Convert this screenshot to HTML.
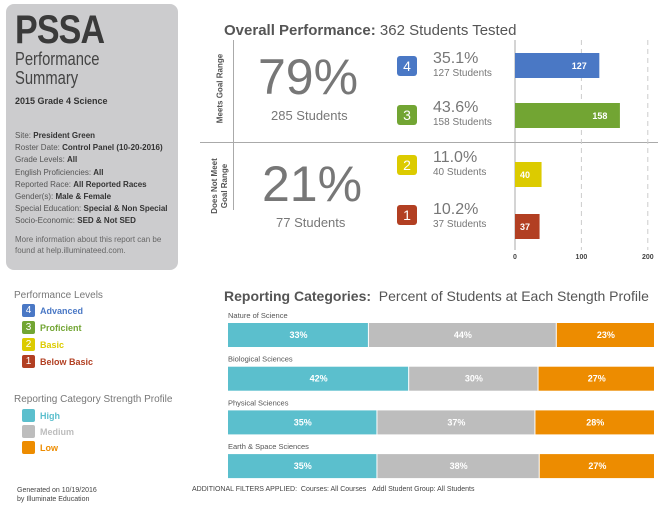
<!DOCTYPE html>
<html><head><meta charset="utf-8"><style>
body{margin:0;width:658px;height:506px;background:#fff;font-family:"Liberation Sans",sans-serif;position:relative;overflow:hidden}
.a{position:absolute}
.sq{position:absolute;width:20px;height:20px;border-radius:3px;color:#fff;font-size:14px;text-align:center;line-height:20px}
.lsq{position:absolute;width:13px;height:13px;border-radius:2px;color:#fff;font-size:10px;text-align:center;line-height:13px}
.lt{position:absolute;font-size:9px;font-weight:bold}
.side b{color:#333}
</style></head><body>
<div class="a" style="left:6px;top:4px;width:172px;height:266px;background:#ccccce;border-radius:8px"></div>
<div class="a" style="left:15px;top:8px;font-size:40px;font-weight:bold;color:#3a3a3a;font-family:'Liberation Sans Narrow','Liberation Sans',sans-serif;transform:scaleX(0.85);transform-origin:left;letter-spacing:-1px">PSSA</div>
<div class="a" style="left:15px;top:50px;font-size:18px;color:#444;line-height:19px;transform:scaleX(0.82);transform-origin:left">Performance<br>Summary</div>
<div class="a" style="left:15px;top:96px;font-size:9px;font-weight:bold;color:#333">2015 Grade 4 Science</div>
<div class="a side" style="left:15px;top:130px;font-size:8px;color:#555;line-height:12.2px;white-space:nowrap">Site: <b>President Green</b><br>Roster Date: <b>Control Panel (10-20-2016)</b><br>Grade Levels: <b>All</b><br>English Proficiencies: <b>All</b><br>Reported Race: <b>All Reported Races</b><br>Gender(s): <b>Male &amp; Female</b><br>Special Education: <b>Special &amp; Non Special</b><br>Socio-Economic: <b>SED &amp; Not SED</b></div>
<div class="a" style="left:15px;top:234px;font-size:8px;color:#666;line-height:11px">More information about this report can be<br>found at help.illuminateed.com.</div>

<div class="a" style="left:224px;top:22px;font-size:15px;color:#555"><b>Overall Performance:</b> 362 Students Tested</div>
<div class="a" style="left:233px;top:40px;width:1px;height:170px;background:#aaa"></div>
<div class="a" style="left:200px;top:142px;width:458px;height:1px;background:#aaa"></div>
<div class="a" style="left:175px;top:84px;width:90px;font-size:8px;font-weight:bold;color:#555;transform:rotate(-90deg);text-align:center">Meets Goal Range</div>
<div class="a" style="left:175px;top:176px;width:90px;font-size:8px;font-weight:bold;color:#555;transform:rotate(-90deg);text-align:center;line-height:10px">Does Not Meet<br>Goal Range</div>
<div class="a" style="left:258px;top:48px;font-size:50px;color:#777">79%</div>
<div class="a" style="left:271px;top:108px;font-size:13px;color:#777">285 Students</div>
<div class="a" style="left:262px;top:155px;font-size:50px;color:#777">21%</div>
<div class="a" style="left:276px;top:215px;font-size:13px;color:#777">77 Students</div>

<div class="sq" style="left:397px;top:56px;background:#4a78c5">4</div>
<div class="a" style="left:433px;top:50px;font-size:16px;color:#777">35.1%<div style="font-size:10px">127 Students</div></div>
<div class="sq" style="left:397px;top:105px;background:#72a533">3</div>
<div class="a" style="left:433px;top:99px;font-size:16px;color:#777">43.6%<div style="font-size:10px">158 Students</div></div>
<div class="sq" style="left:397px;top:155px;background:#dccb00">2</div>
<div class="a" style="left:433px;top:149px;font-size:16px;color:#777">11.0%<div style="font-size:10px">40 Students</div></div>
<div class="sq" style="left:397px;top:205px;background:#b23f22">1</div>
<div class="a" style="left:433px;top:201px;font-size:16px;color:#777">10.2%<div style="font-size:10px">37 Students</div></div>

<svg class="a" id="topchart" style="left:500px;top:40px" width="158" height="225"></svg>

<div class="a" style="left:14px;top:290px;font-size:10px;color:#777">Performance Levels</div>
<div class="lsq" style="left:22px;top:304px;background:#4a78c5">4</div><div class="lt" style="left:40px;top:306px;color:#4a78c5">Advanced</div>
<div class="lsq" style="left:22px;top:321px;background:#72a533">3</div><div class="lt" style="left:40px;top:323px;color:#72a533">Proficient</div>
<div class="lsq" style="left:22px;top:338px;background:#dccb00">2</div><div class="lt" style="left:40px;top:340px;color:#dccb00">Basic</div>
<div class="lsq" style="left:22px;top:355px;background:#b23f22">1</div><div class="lt" style="left:40px;top:357px;color:#b23f22">Below Basic</div>
<div class="a" style="left:14px;top:394px;font-size:10px;color:#777">Reporting Category Strength Profile</div>
<div class="lsq" style="left:22px;top:409px;background:#5bbfcd"></div><div class="lt" style="left:40px;top:411px;color:#5bbfcd">High</div>
<div class="lsq" style="left:22px;top:425px;background:#bdbdbd"></div><div class="lt" style="left:40px;top:427px;color:#bdbdbd">Medium</div>
<div class="lsq" style="left:22px;top:441px;background:#ed8c00"></div><div class="lt" style="left:40px;top:443px;color:#ed8c00">Low</div>
<div class="a" style="left:17px;top:486px;font-size:7px;color:#444;line-height:9px">Generated on 10/19/2016<br>by Illuminate Education</div>
<div class="a" style="left:192px;top:486px;font-size:7px;color:#444">ADDITIONAL FILTERS APPLIED: &nbsp;Courses: All Courses &nbsp;&nbsp;Addl Student Group: All Students</div>

<div class="a" style="left:224px;top:288px;font-size:14px;color:#555;white-space:nowrap"><b>Reporting Categories:</b>&nbsp; Percent of Students at Each Stength Profile</div>
<svg class="a" id="botchart" style="left:220px;top:305px" width="438" height="180"></svg>

<script>
const levels=["4","3","2","1"];
const levelCounts=[127,158,40,37];
const levelColors=["#4a78c5","#72a533","#dccb00","#b23f22"];
const xTicks=[0,100,200];
const cats=["Nature of Science","Biological Sciences","Physical Sciences","Earth & Space Sciences"];
const high=[33,42,35,35];
const medium=[44,30,37,38];
const low=[23,27,28,27];
const NS="http://www.w3.org/2000/svg";
function mk(p,t,a){const e=document.createElementNS(NS,t);for(const k in a)e.setAttribute(k,a[k]);p.appendChild(e);return e;}
const topSvg=document.getElementById('topchart');
const x0=15,sx=v=>x0+v*0.664;
xTicks.forEach(t=>{
 const l=mk(topSvg,'line',{x1:sx(t),x2:sx(t),y1:0,y2:210,stroke:t?'#ccc':'#aaa','stroke-dasharray':t?'5,4':'none'});
 
 
 const tx=mk(topSvg,'text',{x:sx(t),y:219,'font-size':7,'font-weight':'bold','text-anchor':'middle',fill:'#444'});
 tx.textContent=t;
 
 
});
const barY=[13,63,122,174];
levelCounts.forEach((v,i)=>{
 const w=sx(v)-sx(0);
 const r=mk(topSvg,'rect',{x:sx(0),y:barY[i],width:w,height:25,fill:levelColors[i]});
 
 
 const t=mk(topSvg,'text',{x:w>60?sx(v)-20:sx(0)+10,y:barY[i]+16,'font-size':9,'font-weight':'bold','text-anchor':'middle',fill:'#fff'});
 t.textContent=v;
 
 
});
const botSvg=document.getElementById('botchart');
const W=427,bx=8;
const cols=["#5bbfcd","#bdbdbd","#ed8c00"];
cats.forEach((c,i)=>{
 const y=i*43.7;
 const ct=mk(botSvg,'text',{x:bx,y:y+13,'font-size':7.5,fill:'#555'});
 ct.textContent=c;
 
 
 let acc=0;
 const tot=high[i]+medium[i]+low[i];
 [high[i],medium[i],low[i]].forEach((v,j)=>{
  const x=bx+acc/tot*W,w=v/tot*W;
  const r=mk(botSvg,'rect',{x:x,y:y+18,width:w-1,height:24,fill:cols[j]});
  
  
  const t=mk(botSvg,'text',{x:x+w/2,y:y+33,'font-size':9,'font-weight':'bold','text-anchor':'middle',fill:'#fff'});
  t.textContent=v+'%';
  
  
  acc+=v;
 });
});
</script>
</body></html>
